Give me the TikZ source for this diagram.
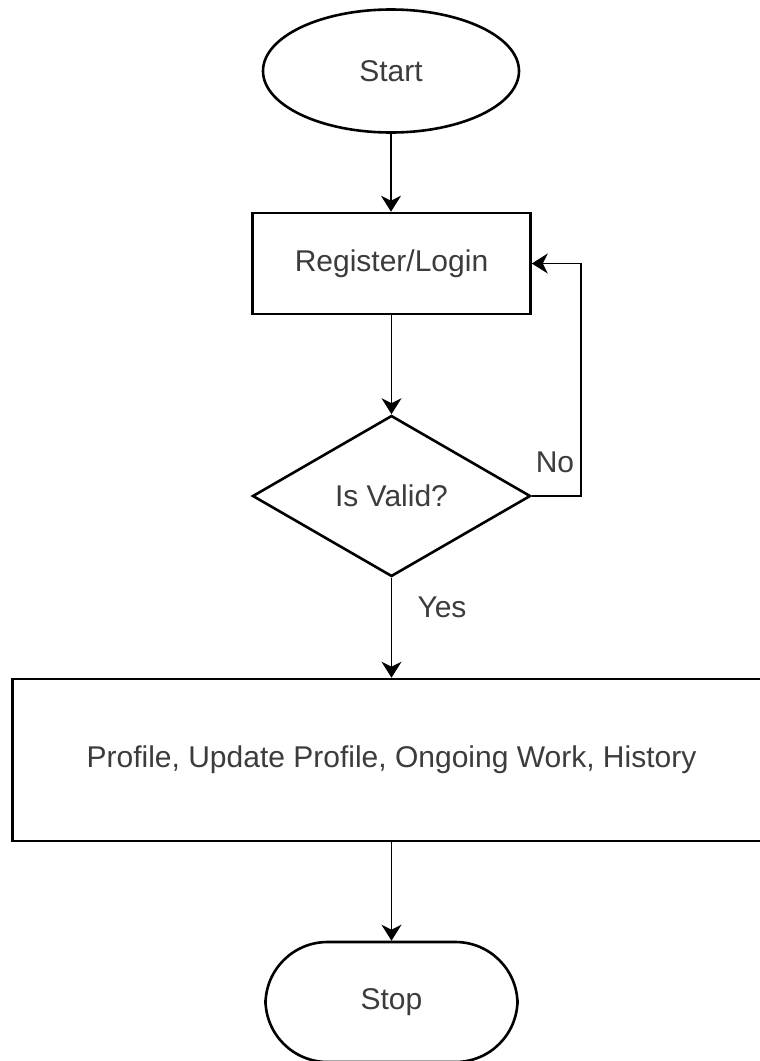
\documentclass[tikz,border=0pt]{standalone}
\usepackage{fontspec}
\setmainfont{Liberation Sans}
\usetikzlibrary{shapes.geometric,arrows.meta}
\definecolor{txt}{HTML}{3C3C3C}
\tikzset{
  shape line/.style={draw=black, line width=2.6pt, fill=white, inner sep=0pt,
    text=txt, font=\fontsize{30}{36}\selectfont},
  terminal/.style={shape line, ellipse},
  process/.style={shape line, rectangle},
  decision/.style={shape line, diamond},
  stopbox/.style={shape line, rectangle, rounded corners=62pt},
  flow/.style={draw=black, line width=1.9pt,
    -{Stealth[length=16pt,width=20pt,inset=5pt]}},
  tag/.style={text=txt, font=\fontsize{30}{36}\selectfont, inner sep=0pt}
}
\begin{document}
\begin{tikzpicture}[x=1pt, y=-1pt]
  \useasboundingbox (0,0) rectangle (760,1061);
  \clip (0,0) rectangle (760,1061);
  \fill[white] (0,0) rectangle (760,1061);

  \node[terminal, minimum width=256pt, minimum height=123pt] (start) at (391,71) {Start};
  \node[process, minimum width=278pt, minimum height=101pt] (login) at (391.5,263.5) {Register/Login};
  \node[decision, minimum width=278pt, minimum height=161pt] (valid) at (391.5,496) {Is Valid?};
  \node[process, minimum width=758pt, minimum height=162pt] (menu) at (391.5,760)
    {Profile, Update Profile, Ongoing Work, History};
  \node[stopbox, minimum width=252pt, minimum height=120pt] (stop) at (391.5,1002) {Stop};

  \coordinate (loopA) at (581,496);
  \coordinate (loopB) at (581,263.5);

  \draw[flow] (start.south) -- (start.south |- login.north);
  \draw[flow] (login.south) -- (valid.north);
  \draw[flow] (valid.east) -- (loopA) -- (loopB) -- (login.east);
  \draw[flow] (valid.south) -- (valid.south |- menu.north);
  \draw[flow] (menu.south -| stop.north) -- (stop.north);

  \node[tag] (no) at (555,462) {No};
  \node[tag] (yes) at (442,607) {Yes};
\end{tikzpicture}
\end{document}
